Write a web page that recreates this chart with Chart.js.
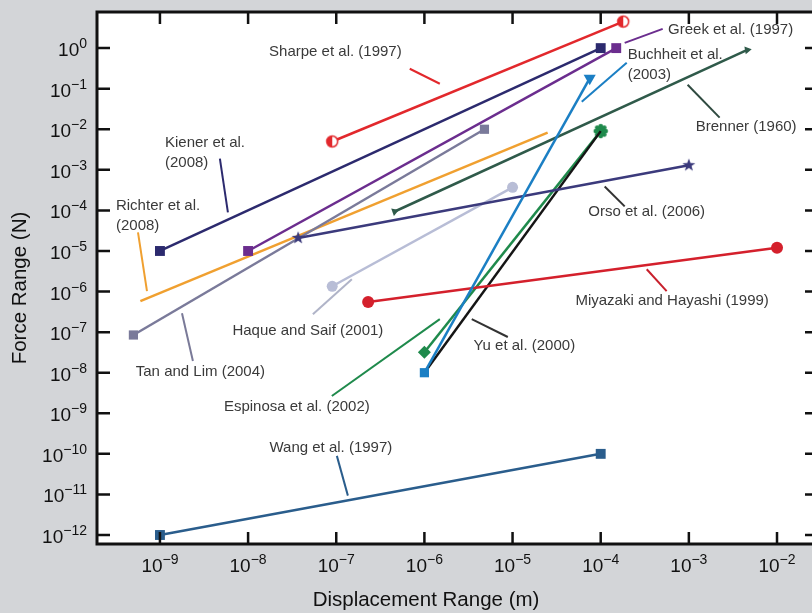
<!DOCTYPE html>
<html>
<head>
<meta charset="utf-8">
<script src="https://cdn.jsdelivr.net/npm/chart.js@4.4.1/dist/chart.umd.min.js"></script>
<style>
  html, body { margin: 0; padding: 0; overflow: hidden; background: #d3d5d8; width: 812px; height: 613px; }
  canvas { display: block; }
</style>
</head>
<body>
<canvas id="chart" width="830" height="613"></canvas>
<script>
// Displacement range (m) and force range (N) covered by each technique
const studies   = ['Sharpe et al. (1997)', 'Greek et al. (1997)', 'Kiener et al. (2008)', 'Buchheit et al. (2003)',
                   'Brenner (1960)', 'Orso et al. (2006)', 'Miyazaki and Hayashi (1999)', 'Yu et al. (2000)',
                   'Espinosa et al. (2002)', 'Haque and Saif (2001)', 'Tan and Lim (2004)', 'Richter et al. (2008)',
                   'Wang et al. (1997)'];
const dispFrom  = [9e-8, 1e-8, 1e-9, 1e-6, 4.6e-7, 3.7e-8, 2.3e-7, 1e-6, 1e-6, 9e-8, 5e-10, 6e-10, 1e-9];
const dispTo    = [1.8e-4, 1.5e-4, 1e-4, 7.5e-5, 4.6e-3, 1e-3, 1e-2, 1e-4, 1e-4, 1e-5, 4.8e-6, 2.5e-5, 1e-4];
const forceFrom = [5e-3, 1e-5, 1e-5, 1e-8, 9.4e-5, 2.1e-5, 5.5e-7, 1e-8, 3.2e-8, 1.35e-6, 8.5e-8, 5.8e-7, 1e-12];
const forceTo   = [4.5, 1, 1, 0.18, 0.9, 1.3e-3, 1.2e-5, 9e-3, 9e-3, 3.7e-4, 1e-2, 8.3e-3, 1e-10];

// Decade exponents for the axis labels
const xTickExp = [-9, -8, -7, -6, -5, -4, -3, -2];
const yTickExp = [0, -1, -2, -3, -4, -5, -6, -7, -8, -9, -10, -11, -12];

const FONT = '"Liberation Sans", Arial, Helvetica, sans-serif';

// ---- custom marker glyphs ----
function makeCanvas(size) {
  const c = document.createElement('canvas');
  c.width = size; c.height = size;
  return c;
}
function halfDot(color) {
  const c = makeCanvas(16), g = c.getContext('2d');
  g.beginPath(); g.arc(8, 8, 5.5, 0, Math.PI * 2);
  g.fillStyle = '#fff'; g.fill();
  g.beginPath(); g.moveTo(8, 2.5); g.arc(8, 8, 5.5, -Math.PI / 2, Math.PI / 2, true); g.closePath();
  g.fillStyle = color; g.fill();
  g.beginPath(); g.arc(8, 8, 5.5, 0, Math.PI * 2);
  g.lineWidth = 1.5; g.strokeStyle = color; g.stroke();
  return c;
}
function star(color) {
  const c = makeCanvas(16), g = c.getContext('2d');
  g.beginPath();
  for (let i = 0; i < 10; i++) {
    const r = i % 2 ? 2.8 : 6.8;
    const a = -Math.PI / 2 + i * Math.PI / 5;
    g.lineTo(8 + r * Math.cos(a), 8 + r * Math.sin(a));
  }
  g.closePath(); g.fillStyle = color; g.fill();
  return c;
}
function flower(color) {
  const c = makeCanvas(18), g = c.getContext('2d');
  g.fillStyle = color;
  g.beginPath(); g.arc(9, 9, 4.6, 0, Math.PI * 2); g.fill();
  for (let i = 0; i < 8; i++) {
    const a = i * Math.PI / 4;
    g.beginPath(); g.arc(9 + 5 * Math.cos(a), 9 + 5 * Math.sin(a), 2.3, 0, Math.PI * 2); g.fill();
  }
  return c;
}

// Line colour and end markers of each series (same order as studies)
const styles = [
  { color: '#e2282c', marks: [halfDot('#e2282c'), halfDot('#e2282c')], radius: [6, 6] },
  { color: '#6b2d8e', marks: ['rect', 'rect'], radius: [7, 7] },
  { color: '#2c2a6e', marks: ['rect', 'rect'], radius: [7, 7] },
  { color: '#1b7fc4', marks: ['rect', 'triangle'], radius: [6.5, 7], rotation: [0, 180] },
  { color: '#2f5a4a', marks: ['triangle', 'triangle'], radius: [4.5, 4.5], rotation: [190, 200] },
  { color: '#3b3a7c', marks: [star('#3b3a7c'), star('#3b3a7c')], radius: [6, 6] },
  { color: '#d4202c', marks: ['circle', 'circle'], radius: [6, 6] },
  { color: '#151515', marks: ['circle', 'circle'], radius: [0, 0] },
  { color: '#1f8a4c', marks: ['rectRot', flower('#1f8a4c')], radius: [6.5, 7] },
  { color: '#b8bdd6', marks: ['circle', 'circle'], radius: [5.5, 5.5] },
  { color: '#7a7a9a', marks: ['rect', 'rect'], radius: [6.5, 6.5] },
  { color: '#f0a030', marks: ['circle', 'circle'], radius: [0, 0] },
  { color: '#2a5d8c', marks: ['rect', 'rect'], radius: [7, 7] }
];

// Callout texts with leader lines, positioned in log10 decades (x, y)
const notes = [
  { text: ['Sharpe et al. (1997)'], pos: [-7.01, -0.09], align: 'center', lead: [-6.166, -0.509, -5.825, -0.878], color: '#e2282c' },
  { text: ['Greek et al. (1997)'], pos: [-2.526, 0.45], align: 'center', lead: [-3.728, 0.13, -3.297, 0.475], color: '#6b2d8e' },
  { text: ['Buchheit et al.', '(2003)'], pos: [-3.694, -0.165], align: 'left', lead: [-4.215, -1.32, -3.705, -0.361], color: '#1b7fc4' },
  { text: ['Brenner (1960)'], pos: [-2.35, -1.935], align: 'center', lead: [-3.014, -0.902, -2.651, -1.714], color: '#2f4a40' },
  { text: ['Orso et al. (2006)'], pos: [-3.478, -4.025], align: 'center', lead: [-3.955, -3.41, -3.728, -3.90], color: '#333' },
  { text: ['Miyazaki and Hayashi (1999)'], pos: [-3.19, -6.24], align: 'center', lead: [-3.478, -5.45, -3.252, -5.99], color: '#c8202c' },
  { text: ['Yu et al. (2000)'], pos: [-4.867, -7.345], align: 'center', lead: [-5.463, -6.68, -5.054, -7.12], color: '#333' },
  { text: ['Espinosa et al. (2002)'], pos: [-7.447, -8.845], align: 'center', lead: [-7.05, -8.574, -5.825, -6.68], color: '#1f8a4c' },
  { text: ['Haque and Saif (2001)'], pos: [-7.322, -6.976], align: 'center', lead: [-7.265, -6.557, -6.823, -5.697], color: '#b0b4c8' },
  { text: ['Tan and Lim (2004)'], pos: [-8.541, -7.984], align: 'center', lead: [-8.75, -6.533, -8.626, -7.713], color: '#7a7a98' },
  { text: ['Richter et al.', '(2008)'], pos: [-9.499, -3.878], align: 'left', lead: [-9.249, -4.54, -9.147, -5.99], color: '#f0a030' },
  { text: ['Kiener et al.', '(2008)'], pos: [-8.943, -2.33], align: 'left', lead: [-8.32, -2.722, -8.229, -4.05], color: '#2c2a6e' },
  { text: ['Wang et al. (1997)'], pos: [-7.061, -9.853], align: 'center', lead: [-6.993, -10.05, -6.868, -11.03], color: '#2a5d8c' }
];

const datasets = studies.map((name, i) => {
  const s = styles[i];
  return {
    label: name,
    data: [{ x: dispFrom[i], y: forceFrom[i] }, { x: dispTo[i], y: forceTo[i] }],
    showLine: true,
    borderColor: s.color,
    borderWidth: 2.5,
    backgroundColor: s.color,
    pointBackgroundColor: s.color,
    pointBorderColor: s.color,
    pointBorderWidth: 0,
    pointStyle: s.marks,
    pointRadius: s.radius,
    pointRotation: s.rotation || [0, 0]
  };
});

function drawPow(ctx, exp, x, y, align) {
  const base = '10';
  const sup = exp === 0 ? '0' : '\u2212' + Math.abs(exp);
  ctx.font = '19px ' + FONT;
  const wb = ctx.measureText(base).width;
  ctx.font = '14px ' + FONT;
  const ws = ctx.measureText(sup).width;
  const left = align === 'right' ? x - wb - ws : x - (wb + ws) / 2;
  ctx.textAlign = 'left';
  ctx.textBaseline = 'alphabetic';
  ctx.font = '19px ' + FONT;
  ctx.fillText(base, left, y);
  ctx.font = '14px ' + FONT;
  ctx.fillText(sup, left + wb, y - 8);
}

const framePlugin = {
  id: 'frame',
  beforeDraw(chart) {
    const { ctx, chartArea: a } = chart;
    ctx.save();
    ctx.fillStyle = '#d3d5d8';
    ctx.fillRect(0, 0, chart.width, chart.height);
    ctx.fillStyle = '#ffffff';
    ctx.fillRect(a.left, a.top, a.right - a.left, a.bottom - a.top);
    ctx.restore();
  },
  afterDatasetsDraw(chart) {
    const { ctx, scales: { x, y } } = chart;
    ctx.save();
    notes.forEach(n => {
      const [x1, y1, x2, y2] = n.lead;
      ctx.beginPath();
      ctx.moveTo(x.getPixelForValue(10 ** x1), y.getPixelForValue(10 ** y1));
      ctx.lineTo(x.getPixelForValue(10 ** x2), y.getPixelForValue(10 ** y2));
      ctx.strokeStyle = n.color;
      ctx.lineWidth = 2;
      ctx.stroke();
      ctx.fillStyle = '#3a3a3a';
      ctx.font = '15px ' + FONT;
      ctx.textAlign = n.align;
      ctx.textBaseline = 'middle';
      const px = x.getPixelForValue(10 ** n.pos[0]);
      const py = y.getPixelForValue(10 ** n.pos[1]);
      n.text.forEach((t, k) => ctx.fillText(t, px, py + k * 20));
    });
    ctx.restore();
  },
  afterDraw(chart) {
    const { ctx, chartArea: a, scales: { x, y } } = chart;
    ctx.save();
    ctx.strokeStyle = '#111';
    ctx.fillStyle = '#111';
    ctx.lineWidth = 2.5;
    // inward ticks on all four sides
    xTickExp.forEach(e => {
      const px = x.getPixelForValue(10 ** e);
      ctx.beginPath();
      ctx.moveTo(px, a.bottom); ctx.lineTo(px, a.bottom - 12);
      ctx.moveTo(px, a.top); ctx.lineTo(px, a.top + 12);
      ctx.stroke();
      drawPow(ctx, e, px, 572, 'center');
    });
    yTickExp.forEach(e => {
      const py = y.getPixelForValue(10 ** e);
      ctx.beginPath();
      ctx.moveTo(a.left, py); ctx.lineTo(a.left + 13, py);
      ctx.moveTo(a.right, py); ctx.lineTo(a.right - 13, py);
      ctx.stroke();
      drawPow(ctx, e, 87, py + 8, 'right');
    });
    // frame
    ctx.lineWidth = 3;
    ctx.strokeRect(a.left, a.top, a.right - a.left, a.bottom - a.top);
    // axis titles
    ctx.font = '20.5px ' + FONT;
    ctx.textAlign = 'center';
    ctx.textBaseline = 'middle';
    ctx.fillText('Displacement Range (m)', 426, 600);
    ctx.translate(20, 288);
    ctx.rotate(-Math.PI / 2);
    ctx.fillText('Force Range (N)', 0, 0);
    ctx.restore();
  }
};

new Chart(document.getElementById('chart'), {
  type: 'scatter',
  data: { datasets },
  options: {
    responsive: false,
    animation: false,
    devicePixelRatio: 1,
    layout: { padding: { left: 97, top: 12, right: 12, bottom: 69 } },
    plugins: { legend: { display: false }, tooltip: { enabled: false } },
    scales: {
      x: { type: 'logarithmic', display: false, min: 10 ** -9.714, max: 10 ** -1.535 },
      y: { type: 'logarithmic', display: false, min: 10 ** -12.2, max: 10 ** 0.89 }
    }
  },
  plugins: [framePlugin]
});
</script>
</body>
</html>
